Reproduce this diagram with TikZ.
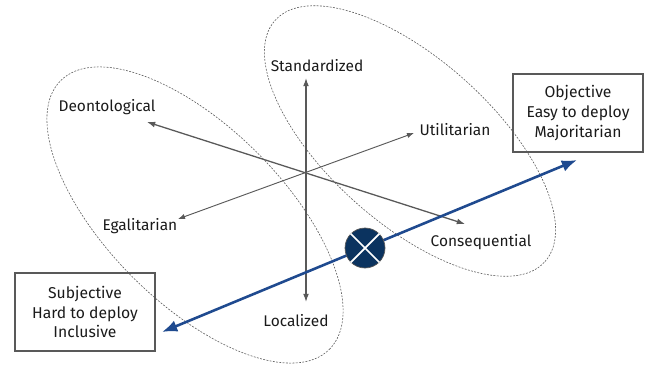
\documentclass[tikz,border=0pt]{standalone}
\usepackage{fontspec}
\setmainfont{Fira Sans}
\usetikzlibrary{arrows.meta}
\definecolor{axisgray}{HTML}{595959}
\definecolor{lineblue}{HTML}{1F4A8F}
\definecolor{navy}{HTML}{0B335F}
\definecolor{inkgray}{HTML}{1A1A1A}

\begin{document}
\begin{tikzpicture}[x=0.03cm,y=-0.03cm,
    axis/.style={axisgray, line width=1.1pt, {Latex[length=7pt,width=5pt]}-{Latex[length=7pt,width=5pt]}},
    thinaxis/.style={axisgray, line width=0.8pt, {Latex[length=6pt,width=4.5pt]}-{Latex[length=6pt,width=4.5pt]}},
    axislabel/.style={font=\fontsize{13.2}{15}\selectfont, text=inkgray, inner sep=1pt},
    endbox/.style={draw=axisgray, line width=1.5pt, minimum height=2.34cm, align=center,
                   font=\fontsize{13.4}{17}\selectfont, text=inkgray},
    blob/.style={dash pattern=on 1.6pt off 1.2pt, line width=0.5pt, axisgray}]
    \useasboundingbox (0,0) rectangle (647,365);

    % the two groupings
    \draw[blob, rotate around={-45:(195,215)}] (195,215) ellipse [x radius=5.7cm, y radius=2.64cm];
    \draw[blob, rotate around={-41.8:(410,141)}] (410,141) ellipse [x radius=5.43cm, y radius=2.46cm];

    % axis ends
    \coordinate (std) at (306,78);
    \coordinate (loc) at (306,302);
    \coordinate (deo) at (147,122);
    \coordinate (con) at (465,224);
    \coordinate (uti) at (414,133);
    \coordinate (ega) at (178,219);

    \draw[axis] (std) -- (loc);
    \draw[axis] (deo) -- (con);
    \draw[thinaxis] (uti) -- (ega);

    \node[axislabel] (stdtext) at (317,66) {Standardized};
    \node[axislabel] (loctext) at (296,321) {Localized};
    \node[axislabel] (deotext) at (107,107) {Deontological};
    \node[axislabel] (context) at (481,242) {Consequential};
    \node[axislabel] (utitext) at (455,130) {Utilitarian};
    \node[axislabel] (egatext) at (140,226) {Egalitarian};

    % the two extremes
    \node[endbox, minimum width=3.9cm] (obj) at (578,113) {Objective\\Easy to deploy\\Majoritarian};
    \node[endbox, minimum width=4.2cm] (subj) at (85,312) {Subjective\\Hard to deploy\\Inclusive};

    \coordinate (objtip) at (577,160);
    \coordinate (subjtip) at (162,332);
    \draw[lineblue, line width=2.2pt, {Latex[length=13pt,width=10pt]}-{Latex[length=13pt,width=10pt]}] (subjtip) -- (objtip);

    \node[circle, fill=navy, draw=axisgray, line width=0.6pt, minimum size=1.2cm] (mark) at (365,248) {};
    \draw[white, line width=1.5pt] (mark.45) -- (mark.225) (mark.135) -- (mark.315);
\end{tikzpicture}
\end{document}
